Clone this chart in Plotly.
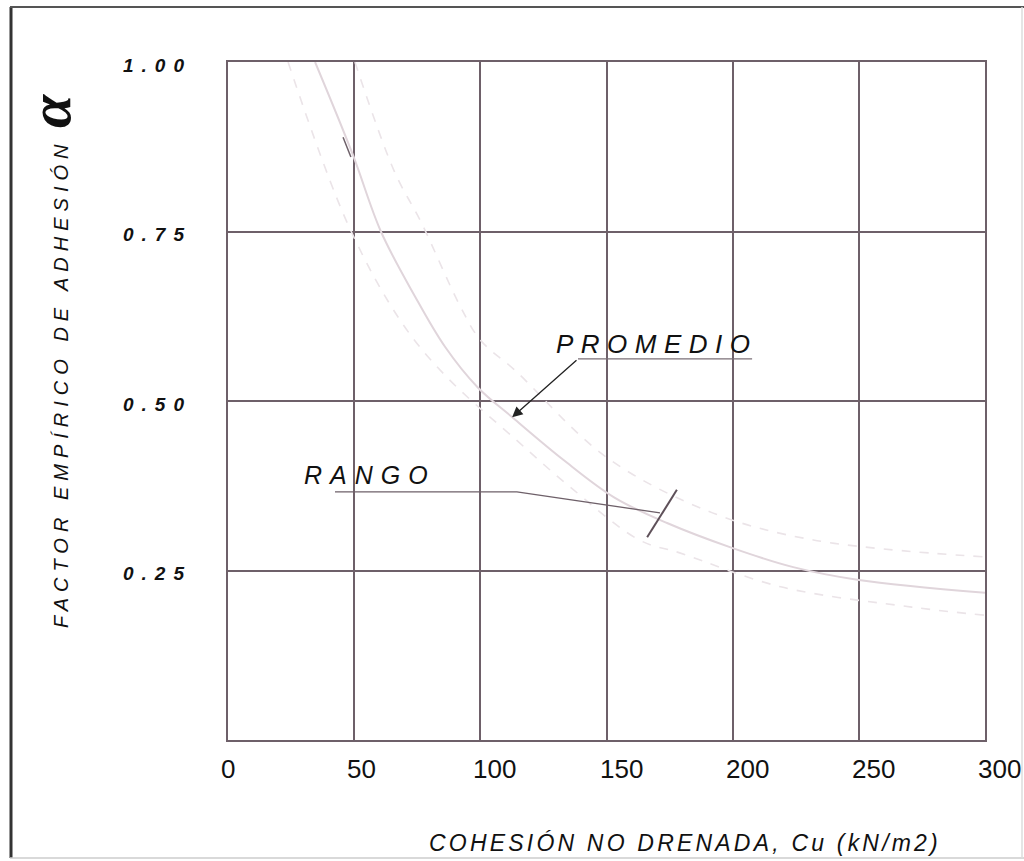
import plotly.graph_objects as go

# ---- data ----
cu_mean = [34.5, 49.5, 60.6, 74, 86, 99, 113, 133, 153, 174, 200, 224, 250, 300]
alpha_mean = [1.0, 0.863, 0.75, 0.655, 0.58, 0.52, 0.475, 0.413, 0.358, 0.32, 0.283, 0.255, 0.236, 0.217]

cu_upper = [50.3, 66, 76.5, 92, 100, 113.8, 150, 192, 232, 300]
alpha_upper = [1.0, 0.838, 0.764, 0.64, 0.59, 0.545, 0.417, 0.335, 0.295, 0.27]

cu_lower = [23.8, 47.6, 68.6, 86, 115, 135, 163, 179, 219, 271, 300]
alpha_lower = [1.0, 0.76, 0.617, 0.538, 0.44, 0.375, 0.295, 0.276, 0.226, 0.196, 0.184]

x_ticks = [0, 50, 100, 150, 200, 250, 300]
x_ticklabels = ["0", "50", "100", "150", "200", "250", "300"]
y_ticks = [1.0, 0.75, 0.5, 0.25]
y_ticklabels = ["1.00", "0.75", "0.50", "0.25"]

# leader lines of the labels (data units)
promedio_leader_x = [207.7, 138.7]
promedio_leader_y = [0.562, 0.562]
promedio_arrow_tip = (112.6, 0.476)
rango_leader_x = [42.4, 114.5, 171.2]
rango_leader_y = [0.366, 0.366, 0.335]
rango_tick_x = [166.1, 177.9]
rango_tick_y = [0.299, 0.369]
mark_x = [45.6, 48.7]
mark_y = [0.889, 0.860]

GRID = "#6e6069"
TXT = "#111111"
ITAL = "Liberation Sans, Arial, sans-serif"

fig = go.Figure()

fig.add_trace(go.Scatter(x=cu_upper, y=alpha_upper, mode="lines",
                         line=dict(color="#ebe4e8", width=1.6, dash="dash", shape="spline"),
                         hoverinfo="skip", showlegend=False))
fig.add_trace(go.Scatter(x=cu_lower, y=alpha_lower, mode="lines",
                         line=dict(color="#ebe4e8", width=1.6, dash="dash", shape="spline"),
                         hoverinfo="skip", showlegend=False))
fig.add_trace(go.Scatter(x=cu_mean, y=alpha_mean, mode="lines",
                         line=dict(color="#e0d5db", width=2, shape="spline", smoothing=1),
                         hoverinfo="skip", showlegend=False))

# leader lines
fig.add_trace(go.Scatter(x=promedio_leader_x, y=promedio_leader_y, mode="lines",
                         line=dict(color="#7a6f77", width=1.3), hoverinfo="skip", showlegend=False))
fig.add_trace(go.Scatter(x=rango_leader_x, y=rango_leader_y, mode="lines",
                         line=dict(color="#6e6069", width=1.3), hoverinfo="skip", showlegend=False))
fig.add_trace(go.Scatter(x=rango_tick_x, y=rango_tick_y, mode="lines",
                         line=dict(color="#5e5059", width=2), hoverinfo="skip", showlegend=False))
fig.add_trace(go.Scatter(x=mark_x, y=mark_y, mode="lines",
                         line=dict(color="#6e6069", width=1.5), hoverinfo="skip", showlegend=False))

annotations = []
# x tick labels
for v, t in zip(x_ticks, x_ticklabels):
    annotations.append(dict(x=v, y=0, xref="x", yref="paper", text=t, showarrow=False,
                            xanchor="left", yanchor="top", xshift=-9, yshift=-12,
                            font=dict(family="Liberation Sans, Arial, sans-serif", size=26, color=TXT)))
# y tick labels
for v, t in zip(y_ticks, y_ticklabels):
    annotations.append(dict(x=0, y=v, xref="paper", yref="y",
                            text=f"<span style='letter-spacing:8px'>{t}</span>", showarrow=False,
                            xanchor="left", yanchor="middle", xshift=-107, yshift=-3,
                            font=dict(family=ITAL, size=19, color=TXT, style="italic", weight="bold")))

# axis titles
annotations.append(dict(x=(685 - 228) / 757, y=(740 - 843) / 678, xref="paper", yref="paper",
                        text="<span style='letter-spacing:3.2px'>COHESIÓN NO DRENADA, Cu (kN/m2)</span>",
                        showarrow=False, xanchor="center", yanchor="middle",
                        font=dict(family=ITAL, size=23, color=TXT, style="italic")))
annotations.append(dict(x=(61 - 228) / 757, y=(740 - 384) / 678, xref="paper", yref="paper",
                        text="<span style='letter-spacing:6px'>FACTOR EMPÍRICO DE ADHESIÓN</span>",
                        showarrow=False, textangle=-90, xanchor="center", yanchor="middle",
                        font=dict(family=ITAL, size=20, color=TXT, style="italic")))
annotations.append(dict(x=(50 - 228) / 757, y=(740 - 111) / 678, xref="paper", yref="paper",
                        text="α", showarrow=False, textangle=-90, xanchor="center", yanchor="middle",
                        font=dict(family="Liberation Serif, DejaVu Serif, serif", size=60, color=TXT,
                                  style="italic", weight="bold")))

# chart labels
annotations.append(dict(x=170.2, y=0.584, xref="x", yref="y",
                        text="<span style='letter-spacing:7.5px'>PROMEDIO</span>", showarrow=False,
                        xanchor="center", yanchor="middle",
                        font=dict(family=ITAL, size=26, color=TXT, style="italic")))
annotations.append(dict(x=56.3, y=0.391, xref="x", yref="y",
                        text="<span style='letter-spacing:8px'>RANGO</span>", showarrow=False,
                        xanchor="center", yanchor="middle",
                        font=dict(family=ITAL, size=25, color=TXT, style="italic")))
# arrow
annotations.append(dict(x=promedio_arrow_tip[0], y=promedio_arrow_tip[1], xref="x", yref="y",
                        ax=promedio_leader_x[1], ay=promedio_leader_y[1], axref="x", ayref="y",
                        text="", showarrow=True, arrowhead=2, arrowsize=1.6, arrowwidth=1.3,
                        arrowcolor="#222222", standoff=0))

shapes = [
    # outer frame
    dict(type="line", xref="paper", yref="paper", x0=(11 - 228) / 757, x1=(11 - 228) / 757,
         y0=(740 - 7) / 678, y1=(740 - 858) / 678, line=dict(color="#333333", width=3)),
    dict(type="line", xref="paper", yref="paper", x0=(10 - 228) / 757, x1=(1024 - 228) / 757,
         y0=(740 - 7) / 678, y1=(740 - 7) / 678, line=dict(color="#555555", width=2)),
    dict(type="line", xref="paper", yref="paper", x0=(10 - 228) / 757, x1=(1024 - 228) / 757,
         y0=(740 - 858) / 678, y1=(740 - 858) / 678, line=dict(color="#cccccc", width=1.5)),
    dict(type="line", xref="paper", yref="paper", x0=(1022 - 228) / 757, x1=(1022 - 228) / 757,
         y0=(740 - 7) / 678, y1=(740 - 858) / 678, line=dict(color="#dddddd", width=1.5)),
]

fig.update_layout(
    width=1024, height=861, autosize=False,
    margin=dict(l=228, r=39, t=62, b=121),
    paper_bgcolor="white", plot_bgcolor="white",
    showlegend=False,
    annotations=annotations,
    shapes=shapes,
    xaxis=dict(range=[0, 300], tickvals=x_ticks, showticklabels=False, ticks="",
               showgrid=True, gridcolor=GRID, gridwidth=1.5, zeroline=False,
               showline=True, linecolor=GRID, linewidth=1.5, mirror=True, fixedrange=True),
    yaxis=dict(range=[0, 1], tickvals=y_ticks, showticklabels=False, ticks="",
               showgrid=True, gridcolor=GRID, gridwidth=1.5, zeroline=False,
               showline=True, linecolor=GRID, linewidth=1.5, mirror=True, fixedrange=True),
)

fig.write_html("out.html", config={"displayModeBar": False},
               post_script="document.body.style.margin='0';"
                           "document.documentElement.style.overflow='hidden';")
